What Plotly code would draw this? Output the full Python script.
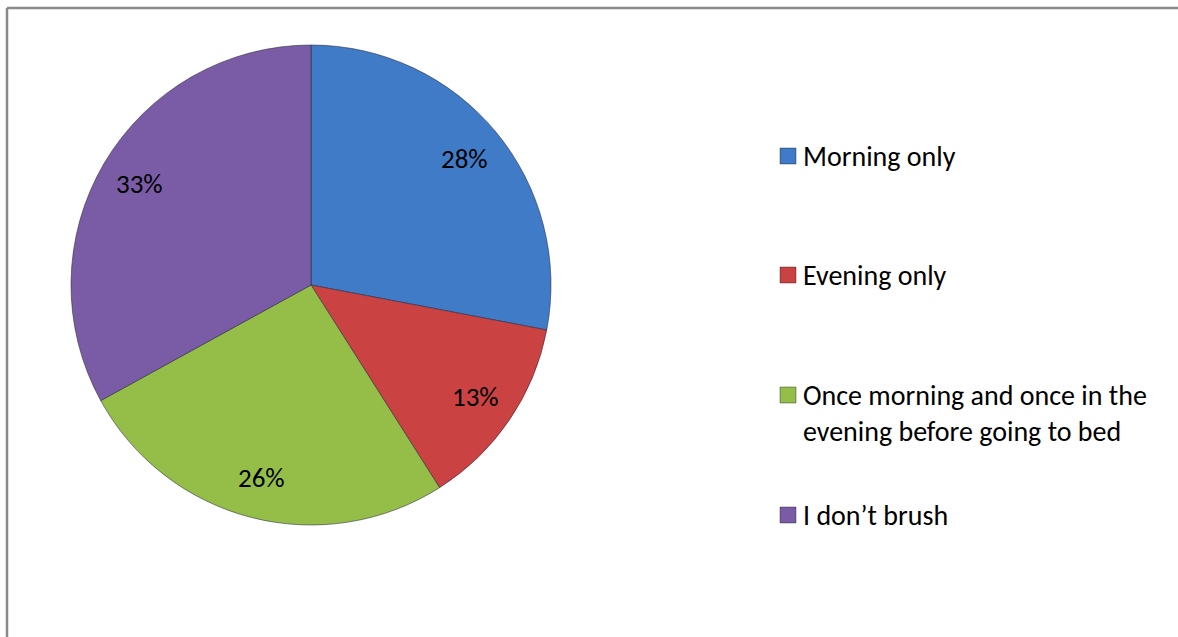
import math
import plotly.graph_objects as go

categories = ["Morning only", "Evening only",
              "Once morning and once in the<br>evening before going to bed",
              "I don’t brush"]
values = [28, 13, 26, 33]
colors = ["#3F7BC6", "#CB4242", "#94BE48", "#7A5BA5"]

W, H = 1178, 637
cx, cy, R = 311, 285, 240
FONT = "Calibri, Carlito, Lato, sans-serif"
FS = 28

def px(x):
    return x / W

def py(y):
    return 1 - y / H

fig = go.Figure()
fig.add_trace(go.Pie(
    labels=categories,
    values=values,
    sort=False,
    direction="clockwise",
    rotation=0,
    marker=dict(colors=colors, line=dict(color="rgba(40,40,60,0.55)", width=1)),
    textinfo="none",
    hoverinfo="label+percent",
    showlegend=False,
    domain=dict(x=[px(cx - R), px(cx + R)], y=[py(cy + R), py(cy - R)]),
))

annotations = []
total = sum(values)
cum = 0
for v in values:
    mid = (cum + v / 2) / total * 2 * math.pi
    cum += v
    r = 0.83 * R
    x = cx + r * math.sin(mid)
    y = cy - r * math.cos(mid)
    annotations.append(dict(
        x=px(x), y=py(y), xref="paper", yref="paper",
        text=f"{round(v / total * 100)}%", showarrow=False,
        font=dict(family=FONT, size=FS - 1, color="#000000"),
        xanchor="center", yanchor="middle"))

# manual legend
legend_y = [156, 275, 395, 515]
shapes = []
for lab, col, ly in zip(categories, colors, legend_y):
    shapes.append(dict(type="rect", xref="paper", yref="paper",
                       x0=px(780), x1=px(796), y0=py(ly + 8), y1=py(ly - 8),
                       fillcolor=col, line=dict(color="rgba(0,0,0,0.35)", width=1)))
    annotations.append(dict(
        x=px(801), y=py(ly - 19), xref="paper", yref="paper",
        text=lab, showarrow=False, align="left",
        font=dict(family=FONT, size=FS, color="#000000"),
        xanchor="left", yanchor="top"))

# chart frame (left and top edges visible)
shapes.append(dict(type="line", xref="paper", yref="paper",
                   x0=px(7), x1=px(W), y0=py(8), y1=py(8),
                   line=dict(color="#8A8A8A", width=2.5)))
shapes.append(dict(type="line", xref="paper", yref="paper",
                   x0=px(7), x1=px(7), y0=py(8), y1=py(H),
                   line=dict(color="#8A8A8A", width=2.5)))

fig.update_layout(
    width=W, height=H,
    margin=dict(l=0, r=0, t=0, b=0),
    paper_bgcolor="#FFFFFF",
    plot_bgcolor="#FFFFFF",
    annotations=annotations,
    shapes=shapes,
    font=dict(family=FONT),
)

fig.write_html("out.html", config={"displayModeBar": False},
               post_script="document.body.style.margin='0';document.body.style.overflow='hidden';")
